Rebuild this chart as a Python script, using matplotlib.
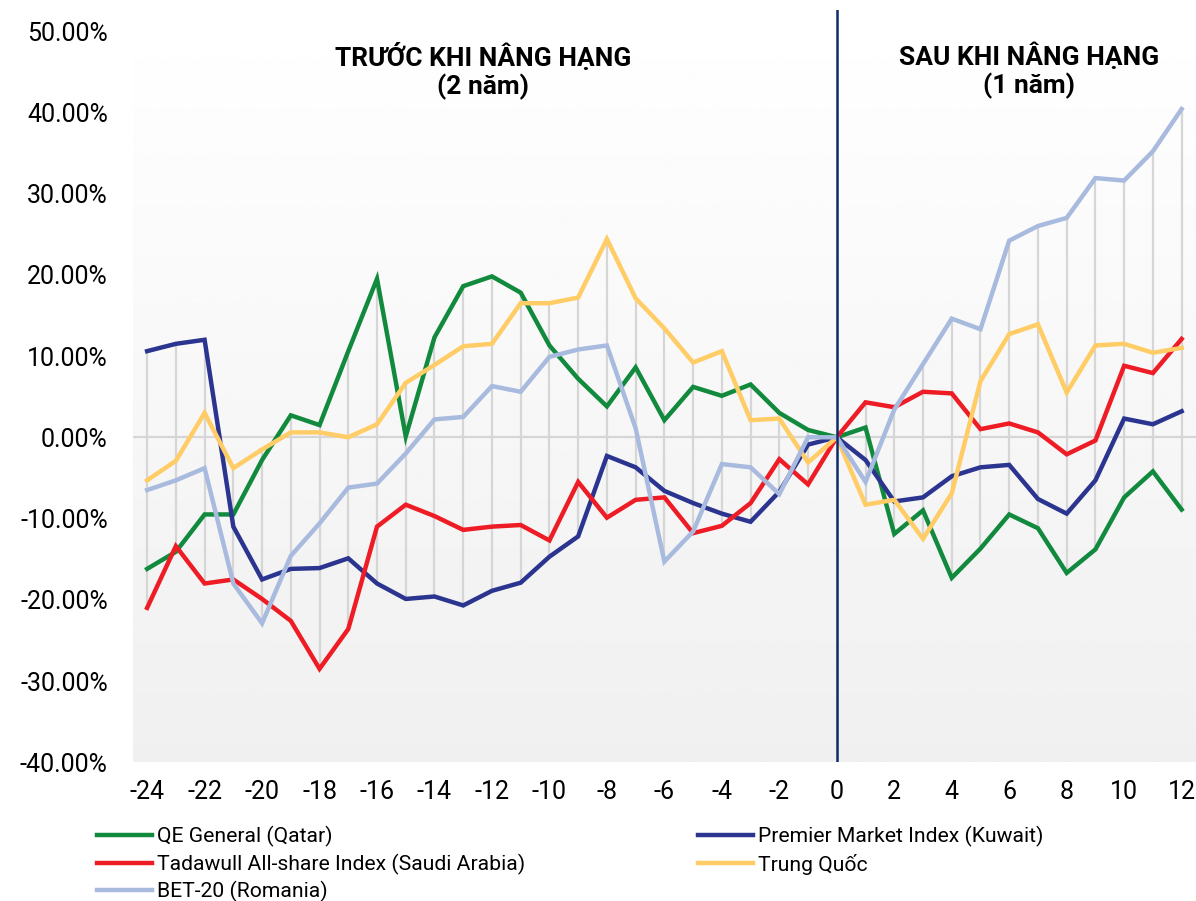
import numpy as np
import matplotlib
matplotlib.use('Agg')
import matplotlib.pyplot as plt
from matplotlib.ticker import FuncFormatter

plt.rcParams['font.family'] = ['Roboto', 'DejaVu Sans']
plt.rcParams['axes.unicode_minus'] = False

# tháng so với thời điểm nâng hạng
months = list(range(-24, 13))

qatar = [-16.2, -14.1, -9.5, -9.5, -2.8, 2.7, 1.5, 10.6, 19.5, 0.1, 12.3, 18.6, 19.8,
         17.8, 11.3, 7.2, 3.8, 8.6, 2.1, 6.2, 5.1, 6.5, 3.0, 0.9, 0.0,
         1.2, -11.9, -9.0, -17.3, -13.7, -9.5, -11.2, -16.7, -13.8, -7.4, -4.2, -8.9]
kuwait = [10.6, 11.5, 12.0, -11.0, -17.5, -16.2, -16.1, -14.9, -18.0, -19.9, -19.6, -20.7, -18.9,
          -17.9, -14.7, -12.2, -2.3, -3.7, -6.6, -8.1, -9.4, -10.4, -6.7, -0.9, 0.0,
          -2.8, -7.9, -7.4, -4.8, -3.7, -3.4, -7.6, -9.4, -5.3, 2.3, 1.6, 3.2]
saudi = [-21.0, -13.4, -18.0, -17.5, -19.9, -22.6, -28.5, -23.6, -11.0, -8.3, -9.7, -11.4, -11.0,
         -10.8, -12.7, -5.5, -9.9, -7.7, -7.4, -11.8, -10.9, -8.1, -2.7, -5.8, 0.0,
         4.3, 3.7, 5.6, 5.4, 1.0, 1.7, 0.6, -2.1, -0.4, 8.8, 7.9, 12.1]
china = [-5.3, -2.9, 3.0, -3.8, -1.5, 0.6, 0.6, 0.0, 1.6, 6.7, 8.9, 11.2, 11.5,
         16.5, 16.5, 17.2, 24.4, 17.1, 13.4, 9.2, 10.6, 2.1, 2.3, -3.1, 0.0,
         -8.3, -7.7, -12.5, -6.9, 6.9, 12.7, 13.9, 5.5, 11.3, 11.5, 10.4, 11.0]
romania = [-6.5, -5.3, -3.8, -18.0, -22.9, -14.6, -10.6, -6.2, -5.7, -2.0, 2.2, 2.5, 6.3,
           5.6, 9.9, 10.8, 11.3, 1.1, -15.3, -11.6, -3.3, -3.7, -7.0, 0.0, 0.0,
           -5.5, 3.4, 9.0, 14.6, 13.3, 24.2, 26.0, 27.0, 31.9, 31.6, 35.2, 40.4]

names = ['QE General (Qatar)', 'Premier Market Index (Kuwait)',
         'Tadawull All-share Index (Saudi Arabia)', 'Trung Quốc', 'BET-20 (Romania)']
colors = ['#128a3e', '#2b3590', '#ee1c25', '#ffcc66', '#a8badd']
series = [qatar, kuwait, saudi, china, romania]

fig = plt.figure(figsize=(11.96, 9.01), dpi=100)
ax = fig.add_axes([0.111, 0.154, 0.889, 0.835])

ax.set_xlim(-24.5, 12.5)
ax.set_ylim(-40, 52.6)

# nền chuyển màu trắng -> xám nhạt
grad = np.linspace(1.0, 0.94, 256).reshape(-1, 1)
ax.imshow(grad, cmap='gray', vmin=0, vmax=1, aspect='auto',
          extent=[-24.5, 12.5, -40, 52.6], zorder=0)

# đường high-low
arr = np.array(series)
ax.vlines(months, arr.min(axis=0), arr.max(axis=0), color='#d6d6d6', lw=1.6, zorder=1)
ax.axhline(0, color='#d6d6d6', lw=1.6, zorder=1)

lines = []
for vals, c, n in zip(series, colors, names):
    l, = ax.plot(months, vals, color=c, lw=3.2, label=n, zorder=3,
                 solid_joinstyle='miter')
    lines.append(l)

ax.axvline(0, color='#0d2a6b', lw=1.8, zorder=4)

ax.set_xticks(range(-24, 13, 2))
ax.set_yticks(range(-40, 51, 10))
ax.yaxis.set_major_formatter(FuncFormatter(lambda v, p: '%.2f%%' % v))
ax.tick_params(length=0, labelsize=18, colors='#000000')
ax.tick_params(axis='y', pad=18)
ax.tick_params(axis='x', pad=13)
for s in ax.spines.values():
    s.set_visible(False)

ax.text(-12.3, 45.1, 'TRƯỚC KHI NÂNG HẠNG\n(2 năm)', ha='center', va='center',
        fontsize=19, fontweight='bold', linespacing=1.15, zorder=5)
ax.text(6.7, 45.1, 'SAU KHI NÂNG HẠNG\n(1 năm)', ha='center', va='center',
        fontsize=19, fontweight='bold', linespacing=1.15, zorder=5)

order = [0, 2, 4, 1, 3]
fig.legend([lines[i] for i in order], [names[i] for i in order],
           loc='upper left', bbox_to_anchor=(0.081, 0.083), ncol=2, frameon=False,
           fontsize=15.2, handlelength=2.6, handletextpad=0.25, columnspacing=8.2,
           labelspacing=0.3, borderpad=0, borderaxespad=0)

fig.savefig('out.png', dpi=100)
